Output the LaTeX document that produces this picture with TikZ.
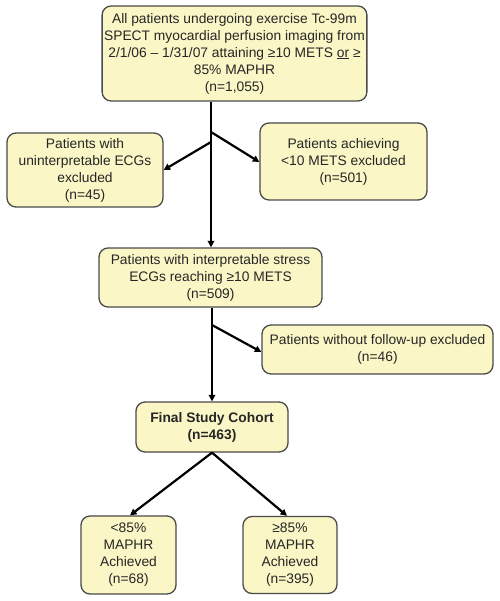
\documentclass[tikz,border=0pt]{standalone}
\usepackage{fontspec}
\setmainfont{Liberation Sans}
\usetikzlibrary{arrows.meta,calc}
\definecolor{boxfill}{HTML}{FAF6C6}
\definecolor{boxline}{HTML}{4A4A4A}
\tikzset{
  fbox/.style={draw=boxline, line width=1.3pt, fill=boxfill, rounded corners=9pt,
    align=center, inner sep=2pt, font=\fontsize{13.8}{17}\selectfont, text=black!85},
  conn/.style={line width=2.2pt, draw=black},
  arr/.style={conn, -{Triangle[length=6.5pt,width=6.5pt]}}
}
\begin{document}
\begin{tikzpicture}[x=1pt,y=-1pt]
\useasboundingbox (0,0) rectangle (499,601);
\node[fbox, minimum width=251pt, minimum height=95pt] (top) at (234.5,53.5)
  {All patients undergoing exercise Tc-99m\\SPECT myocardial perfusion imaging from\\2/1/06 -- 1/31/07 attaining ≥10 METS \underline{or} ≥\\85\% MAPHR\\(n=1,055)};
\node[fbox, minimum width=156pt, minimum height=74pt] (left) at (85,170)
  {Patients with\\uninterpretable ECGs\\excluded\\(n=45)};
\node[fbox, minimum width=167pt, minimum height=77pt] (right) at (343.5,161.5)
  {Patients achieving\\<10 METS excluded\\(n=501)};
\node[fbox, minimum width=223pt, minimum height=59pt] (mid) at (210.5,277.5)
  {Patients with interpretable stress\\ECGs reaching ≥10 METS\\(n=509)};
\node[fbox, minimum width=231pt, minimum height=49pt] (follow) at (377.5,349.5)
  {Patients without follow-up excluded\\(n=46)};
\node[fbox, minimum width=152pt, minimum height=50pt, font=\fontsize{13.8}{17}\selectfont\bfseries] (final) at (212,427)
  {Final Study Cohort\\(n=463)};
\node[fbox, minimum width=95pt, minimum height=78pt] (bl) at (128.5,555)
  {<85\%\\MAPHR\\Achieved\\(n=68)};
\node[fbox, minimum width=94pt, minimum height=77pt] (br) at (290,555)
  {≥85\%\\MAPHR\\Achieved\\(n=395)};
\coordinate (ja) at (211,142);
\coordinate (jb) at (211,132);
\coordinate (jc) at (212,325);
\draw[arr] (top.south -| ja) -- (mid.north -| ja);
\draw[arr] (ja) -- (left.east);
\draw[arr] (jb) -- ($(right.west)+(0,0.5)$);
\draw[arr] (mid.south -| jc) -- (final.north -| jc);
\draw[arr] (jc) -- ($(follow.west)+(0,2.5)$);
\draw[arr] (final.south) -- ($(bl.north)+(1.5,0)$);
\draw[arr] (final.south) -- ($(br.north)+(-3,0)$);
\end{tikzpicture}
\end{document}
